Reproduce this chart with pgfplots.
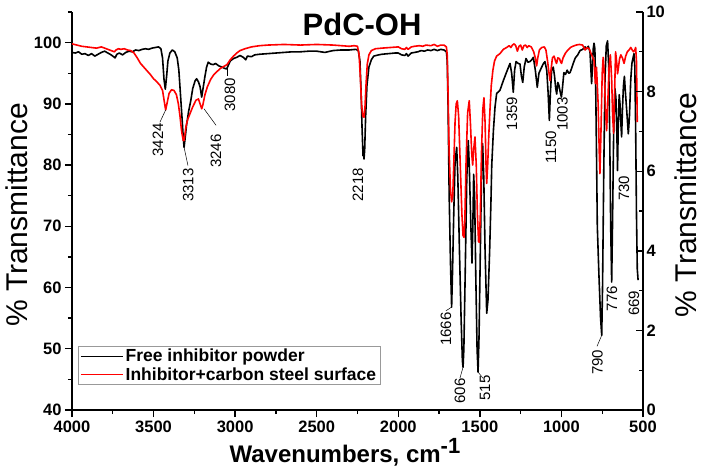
\documentclass[border=0pt]{standalone}
\usepackage{pgfplots}
\pgfplotsset{compat=1.18}
\usepackage{fontspec}
\setmainfont{Liberation Sans}
\newcommand{\fs}[1]{\fontsize{#1}{#1}\selectfont}
\begin{document}
\begin{tikzpicture}
\begin{axis}[
  scale only axis, width=571pt, height=398pt,
  xmin=500, xmax=4000, x dir=reverse,
  ymin=40, ymax=105,
  clip=false,
  axis x line*=bottom, axis y line*=left,
  axis line style={line width=1.6pt},
  every tick/.style={line width=1.4pt, black},
  tick align=outside,
  major tick length=7pt, minor tick length=4pt,
  xtick={500,1000,...,4000}, minor x tick num=1,
  ytick={40,50,...,100}, minor y tick num=1,
  extra y ticks={105}, extra y tick labels={}, extra y tick style={major tick length=4pt},
  /pgf/number format/assume math mode=true,
  /pgf/number format/1000 sep={},
  tick label style={font=\bfseries\fs{16.5}},
  xlabel={Wavenumbers, cm\raisebox{9pt}{\fs{22}-1}},
  every axis x label/.style={at={(axis description cs:0.478,-0.1307)}, anchor=base, font=\bfseries\fs{24}},
  ylabel={\% Transmittance},
  every axis y label/.style={at={(axis description cs:-0.0963,0.49)}, anchor=center, rotate=90, font=\fs{30}},
  legend style={at={(axis description cs:0.0105,0.161)}, anchor=north west, draw=gray!80, line width=0.6pt, font=\bfseries\fs{17.5}, inner xsep=2pt, inner ysep=1pt, row sep=0pt},
  legend cell align=left,
  legend image code/.code={\draw[#1, line width=1.4pt] (0pt,0pt) -- (42pt,0pt);},
]
\coordinate (ll) at (axis description cs:0,0);
\addplot[black, line width=1.6pt, line join=round] coordinates {
(4000,98.4)(3980,98.3)(3960,98.5)(3940,98.1)(3920,98.2)(3900,97.9)(3880,98.2)(3860,97.8)(3840,98.1)(3820,98.4)(3800,98.6)(3780,98.3)(3760,98.0)(3745,97.7)(3736,97.5)(3725,98.1)(3710,98.3)(3690,98.0)(3670,98.4)(3650,98.6)(3630,98.5)(3610,98.8)(3590,98.7)(3570,98.9)(3550,99.0)(3530,98.9)(3510,99.1)(3490,99.2)(3470,99.3)(3455,99.0)(3445,97.5)(3436,94.0)(3428,92.4)(3420,94.5)(3412,97.0)(3400,98.3)(3385,98.8)(3370,98.5)(3355,97.5)(3345,95.5)(3335,91.5)(3325,87.5)(3318,84.5)(3313,82.9)(3306,84.5)(3298,86.5)(3285,88.8)(3272,90.5)(3260,92.5)(3245,93.8)(3236,94.1)(3225,93.6)(3215,92.8)(3205,91.1)(3195,92.8)(3185,94.5)(3175,96.0)(3165,96.8)(3150,96.5)(3134,96.4)(3120,96.6)(3100,96.2)(3080,96.0)(3065,95.8)(3052,95.7)(3040,96.4)(3030,97.0)(3010,97.4)(2990,97.6)(2970,97.9)(2950,97.6)(2935,97.2)(2925,97.8)(2900,97.7)(2880,98.0)(2850,98.1)(2800,98.2)(2750,98.3)(2700,98.4)(2650,98.5)(2600,98.5)(2550,98.6)(2500,98.6)(2450,98.4)(2400,98.7)(2350,98.8)(2300,98.8)(2260,98.9)(2245,98.7)(2235,97.0)(2228,92.0)(2222,86.0)(2216,81.5)(2213,82.5)(2210,81.0)(2206,82.5)(2200,88.0)(2192,93.0)(2180,96.0)(2165,97.2)(2150,97.8)(2120,98.0)(2100,98.1)(2060,98.2)(2020,98.3)(2000,98.3)(1980,98.0)(1960,97.9)(1950,98.2)(1940,97.8)(1920,98.3)(1900,98.4)(1880,98.5)(1860,98.7)(1840,98.6)(1820,98.8)(1800,98.7)(1780,98.9)(1760,98.7)(1740,98.9)(1720,98.8)(1705,98.5)(1700,97.0)(1695,90.0)(1688,75.0)(1680,64.0)(1673,56.8)(1668,62.0)(1660,72.0)(1652,80.5)(1642,82.9)(1635,78.0)(1625,66.0)(1615,55.0)(1607,48.0)(1603,47.0)(1598,50.0)(1590,62.0)(1580,78.0)(1571,84.0)(1565,80.0)(1555,70.0)(1548,64.0)(1543,70.0)(1538,78.5)(1532,75.0)(1525,62.0)(1517,50.0)(1511,46.2)(1505,52.0)(1497,66.0)(1490,78.0)(1483,83.5)(1476,78.0)(1468,66.0)(1458,55.8)(1450,58.0)(1440,66.0)(1432,74.0)(1427,80.0)(1417,85.6)(1407,89.5)(1397,91.7)(1377,92.2)(1356,93.8)(1336,95.2)(1315,96.6)(1305,95.0)(1295,91.9)(1287,95.5)(1278,96.9)(1265,96.6)(1254,96.5)(1245,94.5)(1237,93.5)(1228,96.0)(1217,97.4)(1205,96.8)(1193,96.9)(1182,97.2)(1172,97.6)(1160,95.5)(1148,92.7)(1138,95.0)(1121,96.0)(1110,96.6)(1101,96.9)(1090,95.5)(1082,92.0)(1074,87.3)(1068,91.5)(1060,95.5)(1050,96.0)(1042,94.5)(1035,92.5)(1029,91.6)(1022,93.5)(1015,93.0)(1008,92.0)(1000,91.1)(994,92.5)(985,95.1)(975,94.8)(965,95.5)(955,95.0)(947,95.1)(935,96.0)(925,96.8)(915,97.5)(900,98.0)(886,98.7)(870,98.9)(855,99.3)(845,99.0)(835,99.4)(825,98.5)(820,96.0)(815,93.3)(810,96.0)(805,99.0)(800,99.9)(795,99.0)(790,93.0)(785,82.0)(780,70.0)(770,62.0)(760,55.0)(753,52.2)(748,60.0)(740,80.0)(733,94.0)(725,99.5)(717,100.3)(710,96.0)(704,85.0)(698,70.0)(692,60.9)(687,70.0)(680,85.0)(672,92.5)(666,91.0)(660,85.0)(656,79.1)(652,86.0)(646,91.5)(641,90.0)(636,87.0)(631,84.6)(626,89.0)(620,92.9)(614,94.5)(608,92.0)(600,89.0)(590,85.1)(583,88.0)(575,94.0)(568,96.6)(561,97.5)(555,98.2)(550,96.0)(545,86.0)(540,72.0)(535,63.0)(530,61.2)
};
\addlegendentry{Free inhibitor powder}
\addplot[red, line width=1.6pt, line join=round] coordinates {
(4000,99.8)(3970,99.6)(3940,99.4)(3910,99.3)(3880,99.2)(3850,99.1)(3820,99.3)(3790,99.0)(3760,98.7)(3740,98.5)(3730,98.8)(3715,99.0)(3700,98.9)(3680,99.0)(3660,98.8)(3640,98.7)(3620,98.3)(3600,97.5)(3580,96.6)(3560,96.0)(3540,95.4)(3520,94.8)(3500,94.1)(3480,93.6)(3460,93.0)(3445,92.2)(3435,90.5)(3426,89.0)(3418,90.0)(3405,91.7)(3390,92.3)(3375,92.2)(3360,91.5)(3348,90.0)(3338,88.0)(3328,85.5)(3318,84.0)(3313,84.0)(3308,85.0)(3300,86.5)(3290,87.5)(3275,88.5)(3260,89.5)(3240,90.6)(3225,90.8)(3215,90.0)(3205,89.2)(3198,89.8)(3185,91.5)(3170,92.8)(3150,94.0)(3130,94.8)(3110,95.3)(3090,95.8)(3070,96.1)(3050,96.4)(3030,97.2)(3010,97.8)(2990,98.3)(2970,98.7)(2940,99.0)(2900,99.3)(2850,99.5)(2800,99.6)(2700,99.7)(2600,99.6)(2500,99.7)(2400,99.6)(2350,99.5)(2300,99.4)(2270,99.5)(2250,99.4)(2240,98.0)(2232,94.0)(2225,90.0)(2218,88.0)(2210,87.8)(2204,89.5)(2198,93.0)(2190,96.5)(2180,98.0)(2165,98.7)(2140,99.0)(2100,99.1)(2050,99.2)(2000,99.3)(1980,99.0)(1960,98.9)(1950,99.2)(1940,98.9)(1920,99.3)(1900,99.4)(1870,99.5)(1850,99.4)(1830,99.6)(1800,99.5)(1780,99.7)(1760,99.4)(1740,99.6)(1720,99.6)(1705,99.3)(1700,98.0)(1695,92.0)(1688,82.0)(1680,76.0)(1673,74.0)(1666,75.0)(1660,80.0)(1652,87.0)(1645,90.0)(1638,90.5)(1630,88.0)(1620,80.0)(1610,72.0)(1603,68.5)(1597,68.2)(1592,71.0)(1585,80.0)(1575,88.5)(1565,90.5)(1558,87.0)(1550,82.0)(1544,80.0)(1538,82.5)(1530,84.6)(1522,80.0)(1515,72.0)(1508,67.5)(1503,67.4)(1497,72.0)(1490,82.0)(1482,89.0)(1475,91.0)(1468,87.0)(1462,80.0)(1458,77.0)(1452,80.0)(1445,85.0)(1438,89.0)(1430,93.0)(1420,95.5)(1410,97.0)(1397,97.8)(1377,98.2)(1356,98.9)(1336,99.2)(1320,99.5)(1310,99.2)(1300,99.6)(1290,99.8)(1280,99.5)(1270,98.6)(1260,99.4)(1250,99.6)(1240,98.8)(1230,99.5)(1220,99.6)(1210,99.2)(1200,99.5)(1185,99.3)(1170,98.5)(1160,97.5)(1152,96.2)(1145,97.5)(1135,98.8)(1120,99.2)(1105,99.3)(1095,98.8)(1085,97.0)(1076,95.0)(1070,93.8)(1064,95.5)(1055,97.5)(1045,97.8)(1036,97.0)(1030,96.6)(1022,97.5)(1012,97.4)(1004,96.8)(999,96.6)(990,97.5)(975,98.3)(960,98.8)(945,99.2)(930,99.4)(910,99.6)(890,99.7)(870,99.6)(855,98.8)(845,99.2)(830,99.0)(815,98.0)(800,97.0)(792,93.3)(785,96.0)(775,90.0)(768,82.0)(764,78.6)(758,85.0)(750,95.0)(744,97.6)(737,95.0)(730,89.0)(723,85.6)(716,90.0)(708,96.0)(700,98.0)(692,94.0)(686,88.0)(680,85.2)(674,92.0)(668,98.5)(662,97.0)(656,94.9)(650,96.0)(644,97.3)(636,98.0)(626,97.5)(616,96.6)(606,97.8)(596,98.5)(585,98.8)(575,99.2)(566,98.8)(558,98.5)(550,98.8)(545,99.2)(540,97.0)(535,87.0)
};
\addlegendentry{Inhibitor+carbon steel surface}
% title
\node[font=\bfseries\fs{31}, anchor=base] at (axis cs:2222,101.24) {PdC-OH};
% peak labels
\begin{scope}[every node/.style={rotate=90, font=\fs{15}, anchor=center, inner sep=0pt}]
\node at (axis cs:3473,84.1) {3424};
\node at (axis cs:3287,76.7) {3313};
\node at (axis cs:3117,82.3) {3246};
\node at (axis cs:3032,91.5) {3080};
\node at (axis cs:2247,76.8) {2218};
\node at (axis cs:1708,53.2) {1666};
\node at (axis cs:1622,43.1) {606};
\node at (axis cs:1468,43.6) {515};
\node at (axis cs:1303,88.4) {1359};
\node at (axis cs:1064,82.9) {1150};
\node at (axis cs:993,88.3) {1003};
\node at (axis cs:616,76.2) {730};
\node at (axis cs:779,47.8) {790};
\node at (axis cs:690,58.2) {776};
\node at (axis cs:555,57.4) {669};
\end{scope}
\begin{scope}[line width=0.5pt]
\draw (axis cs:3426,89.0) -- (axis cs:3461,87.0);
\draw (axis cs:3313,82.9) -- (axis cs:3289,79.9);
\draw (axis cs:3191,89.2) -- (axis cs:3117,86.5);
\draw (axis cs:3050,95.8) -- (axis cs:3050,94.6);
\draw (axis cs:1673,56.8) -- (axis cs:1708,56.2);
\draw (axis cs:1603,47.0) -- (axis cs:1622,45.2);
\draw (axis cs:1511,46.2) -- (axis cs:1481,45.2);
\draw (axis cs:753,52.2) -- (axis cs:782,50.4);
\end{scope}
\end{axis}
\begin{axis}[
  scale only axis, width=571pt, height=398pt,
  xmin=500, xmax=4000, x dir=reverse,
  ymin=0, ymax=10,
  hide x axis,
  axis y line*=right,
  axis line style={line width=1.6pt},
  every tick/.style={line width=1.4pt, black},
  tick align=inside,
  major tick length=7pt, minor tick length=4pt,
  ytick={0,2,...,10}, minor y tick num=1,
  /pgf/number format/assume math mode=true,
  tick label style={font=\bfseries\fs{16.5}},
  ylabel={\% Transmittance},
  every axis y label/.style={at={(axis description cs:1.0753,0.515)}, anchor=center, rotate=90, font=\fs{30}},
]
\end{axis}
\pgfresetboundingbox
\path (ll) ++(-72pt,-62pt) rectangle ++(709pt,472pt);
\end{tikzpicture}
\end{document}
